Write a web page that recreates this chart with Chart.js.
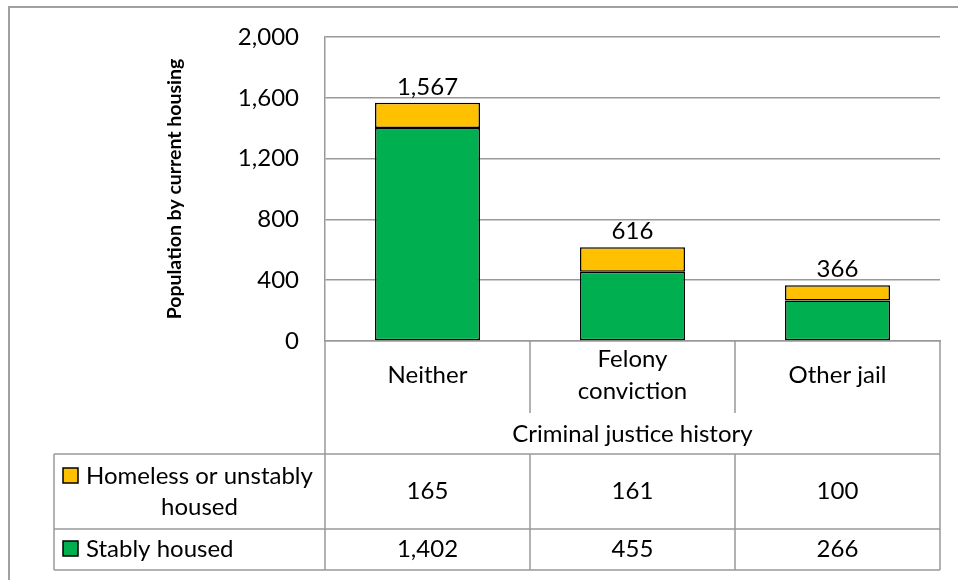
<!DOCTYPE html>
<html><head><meta charset="utf-8">
<script src="https://cdn.jsdelivr.net/npm/chart.js@4.4.1/dist/chart.umd.min.js"></script>
<style>html,body{margin:0;padding:0;background:#fff;} #wrap{width:958px;height:580px;}</style>
</head><body><div id="wrap"><canvas id="c" width="958" height="580"></canvas></div>
<script>
// ---- data ----
const categories = ['Neither', ['Felony', 'conviction'], 'Other jail'];
const xAxisTitle = 'Criminal justice history';
const yAxisTitle = 'Population by current housing';
const homelessName = ['Homeless or unstably', 'housed'];
const stablyName = 'Stably housed';
const homeless = [165, 161, 100];
const stably = [1402, 455, 266];
const yTickValues = [0, 400, 800, 1200, 1600, 2000];

// ---- style ----
const FONT = 'Lato';
const GREEN = '#00B050';
const YELLOW = '#FFC000';
const GRID = '#999999';
const fmt = v => v.toLocaleString('en-US');

const tablePlugin = {
  id: 'tbl',
  beforeDraw(chart) {
    const ctx = chart.ctx;
    ctx.save();
    ctx.fillStyle = '#fff';
    ctx.fillRect(0, 0, chart.width, chart.height);
    ctx.strokeStyle = '#a0a0a0';
    ctx.lineWidth = 2;
    ctx.strokeRect(9, 7, chart.width + 20, chart.height + 20);
    ctx.restore();
  },
  afterDraw(chart) {
    const ctx = chart.ctx;
    const xs = chart.scales.x;
    const ca = chart.chartArea;
    const centers = categories.map((c, i) => xs.getPixelForValue(i));
    const half = (centers[1] - centers[0]) / 2;
    const bounds = [ca.left];
    centers.forEach(c => bounds.push(c + half));
    const y0 = ca.bottom;
    const catRowBottom = y0 + 72;
    const rowTop = xs.bottom;
    const row1 = rowTop + 75;
    const row2 = row1 + 41;
    const legLeft = 54;

    ctx.save();
    ctx.strokeStyle = GRID;
    ctx.lineWidth = 1.5;
    const line = (x1, y1, x2, y2) => { ctx.beginPath(); ctx.moveTo(x1, y1); ctx.lineTo(x2, y2); ctx.stroke(); };
    line(bounds[0], y0, bounds[0], row2);
    line(bounds[bounds.length - 1], y0, bounds[bounds.length - 1], row2);
    for (let i = 1; i < bounds.length - 1; i++) {
      line(bounds[i], y0, bounds[i], catRowBottom);
      line(bounds[i], rowTop, bounds[i], row2);
    }
    line(legLeft, rowTop, legLeft, row2);
    line(legLeft, rowTop, ca.right, rowTop);
    line(legLeft, row1, ca.right, row1);
    line(legLeft, row2, ca.right, row2);

    ctx.fillStyle = '#000';
    ctx.font = '24px ' + FONT;
    ctx.textAlign = 'center';
    ctx.textBaseline = 'middle';
    centers.forEach((cx, i) => {
      ctx.fillText(fmt(homeless[i]), cx, (rowTop + row1) / 2);
      ctx.fillText(fmt(stably[i]), cx, (row1 + row2) / 2);
    });

    const key = (x, y, col) => {
      ctx.fillStyle = col; ctx.fillRect(x, y, 15, 15);
      ctx.strokeStyle = '#000'; ctx.lineWidth = 1.5; ctx.strokeRect(x, y, 15, 15);
    };
    key(63, 468, YELLOW);
    key(63, 541, GREEN);
    ctx.fillStyle = '#000';
    ctx.textAlign = 'left';
    const w1 = ctx.measureText(homelessName[0]).width;
    ctx.fillText(homelessName[0], 86, 476);
    ctx.textAlign = 'center';
    ctx.fillText(homelessName[1], 86 + w1 / 2, 507);
    ctx.textAlign = 'left';
    ctx.fillText(stablyName, 86, 549);

    const meta = chart.getDatasetMeta(1);
    ctx.textAlign = 'center';
    ctx.textBaseline = 'alphabetic';
    meta.data.forEach((bar, i) => {
      ctx.fillText(fmt(stably[i] + homeless[i]), bar.x, bar.y - 8);
    });
    ctx.restore();
  }
};

Chart.defaults.color = '#000';
Chart.defaults.font.family = FONT;

new Chart(document.getElementById('c'), {
  type: 'bar',
  data: {
    labels: categories,
    datasets: [
      { label: stablyName, data: stably, backgroundColor: GREEN, borderColor: '#000', borderWidth: 1.5, borderSkipped: false },
      { label: homelessName.join(' '), data: homeless, backgroundColor: YELLOW, borderColor: '#000', borderWidth: 1.5, borderSkipped: false }
    ]
  },
  options: {
    responsive: false,
    animation: false,
    devicePixelRatio: 1,
    layout: { padding: { left: 0, top: 37, right: 18, bottom: 126 } },
    plugins: { legend: { display: false }, tooltip: { enabled: false } },
    datasets: { bar: { categoryPercentage: 1, barPercentage: 0.512 } },
    scales: {
      x: {
        stacked: true,
        grid: { display: false, drawTicks: false },
        border: { display: true, color: GRID, width: 1.5 },
        ticks: { padding: 18, font: { size: 24, lineHeight: 1.35 }, crossAlign: 'center', maxRotation: 0, autoSkip: false },
        title: { display: true, text: xAxisTitle, font: { size: 24 }, padding: { top: 0, bottom: 5 } },
        afterFit(s) { s.height = 113; s.paddingLeft = 0; s.paddingRight = 0; }
      },
      y: {
        stacked: true,
        min: 0, max: 2000,
        afterBuildTicks(s) { s.ticks = yTickValues.map(v => ({ value: v })); },
        ticks: { padding: 26, font: { size: 24 }, callback: v => fmt(v) },
        grid: { color: GRID, lineWidth: 1.5, drawTicks: false },
        border: { display: true, color: GRID, width: 1.5 },
        title: { display: true, text: yAxisTitle, font: { size: 19.5, weight: 'bold' }, padding: { top: 163, bottom: 0 } },
        afterFit(s) { s.width = 325; s.paddingTop = 0; s.paddingBottom = 0; }
      }
    }
  },
  plugins: [tablePlugin]
});
</script>
</body></html>
